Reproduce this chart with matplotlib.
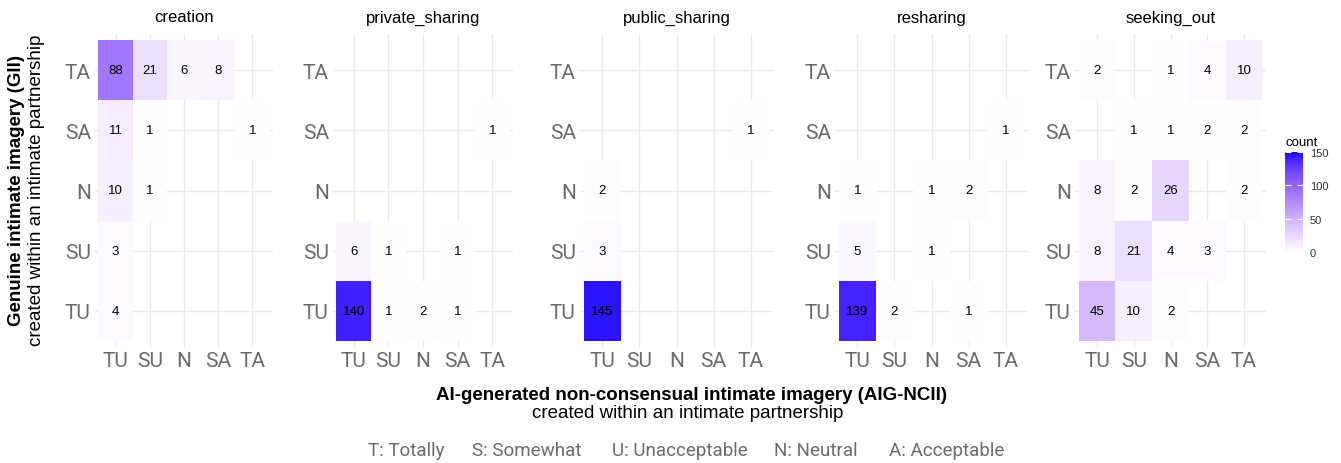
import numpy as np
import matplotlib
matplotlib.use('Agg')
import matplotlib.pyplot as plt
from matplotlib.colors import ListedColormap, Normalize

plt.rcParams['font.family'] = ['Liberation Sans', 'DejaVu Sans']

# Likert levels (x: AIG-NCII, y: GII), TU at the bottom / left
levels = ['TU', 'SU', 'N', 'SA', 'TA']
facets = ['creation', 'private_sharing', 'public_sharing', 'resharing', 'seeking_out']

# rows = GII level (TU..TA, bottom to top), cols = AIG-NCII level (TU..TA)
creation = [[4, 0, 0, 0, 0],
            [3, 0, 0, 0, 0],
            [10, 1, 0, 0, 0],
            [11, 1, 0, 0, 1],
            [88, 21, 6, 8, 0]]
private_sharing = [[140, 1, 2, 1, 0],
                   [6, 1, 0, 1, 0],
                   [0, 0, 0, 0, 0],
                   [0, 0, 0, 0, 1],
                   [0, 0, 0, 0, 0]]
public_sharing = [[145, 0, 0, 0, 0],
                  [3, 0, 0, 0, 0],
                  [2, 0, 0, 0, 0],
                  [0, 0, 0, 0, 1],
                  [0, 0, 0, 0, 0]]
resharing = [[139, 2, 0, 1, 0],
             [5, 0, 1, 0, 0],
             [1, 0, 1, 2, 0],
             [0, 0, 0, 0, 1],
             [0, 0, 0, 0, 0]]
seeking_out = [[45, 10, 2, 0, 0],
               [8, 21, 4, 3, 0],
               [8, 2, 26, 0, 2],
               [0, 1, 1, 2, 2],
               [2, 0, 1, 4, 10]]
counts = [creation, private_sharing, public_sharing, resharing, seeking_out]

abbrev_keys = ['T', 'S', 'U', 'N', 'A']
abbrev_names = ['Totally', 'Somewhat', 'Unacceptable', 'Neutral', 'Acceptable']


# white -> blue gradient interpolated in CIELAB (like ggplot's scale_fill_gradient)
def srgb_to_lab(c):
    c = np.asarray(c, float)
    lin = np.where(c <= 0.04045, c / 12.92, ((c + 0.055) / 1.055) ** 2.4)
    M = np.array([[0.4124, 0.3576, 0.1805], [0.2126, 0.7152, 0.0722], [0.0193, 0.1192, 0.9505]])
    xyz = M @ lin / np.array([0.95047, 1.0, 1.08883])
    d = 6 / 29
    f = np.where(xyz > d ** 3, np.cbrt(xyz), xyz / (3 * d * d) + 4 / 29)
    return np.array([116 * f[1] - 16, 500 * (f[0] - f[1]), 200 * (f[1] - f[2])])


def lab_to_srgb(lab):
    L, a, b = lab[:, 0], lab[:, 1], lab[:, 2]
    fy = (L + 16) / 116
    fx = fy + a / 500
    fz = fy - b / 200
    d = 6 / 29
    f = np.stack([fx, fy, fz], axis=1)
    xyz = np.where(f > d, f ** 3, 3 * d * d * (f - 4 / 29)) * np.array([0.95047, 1.0, 1.08883])
    Minv = np.linalg.inv(np.array([[0.4124, 0.3576, 0.1805], [0.2126, 0.7152, 0.0722], [0.0193, 0.1192, 0.9505]]))
    lin = xyz @ Minv.T
    lin = np.clip(lin, 0, 1)
    rgb = np.where(lin <= 0.0031308, 12.92 * lin, 1.055 * lin ** (1 / 2.4) - 0.055)
    return np.clip(rgb, 0, 1)


lab_lo = srgb_to_lab([1, 1, 1])
lab_hi = srgb_to_lab([0, 0, 1])
t = np.linspace(0, 1, 256)[:, None]
cmap = ListedColormap(lab_to_srgb(lab_lo + t * (lab_hi - lab_lo)))
norm = Normalize(vmin=0, vmax=150)

W, H = 1341, 464
fig = plt.figure(figsize=(W / 100, H / 100), dpi=100)

# panel extents in pixels (left, right)
panel_x = [(95, 273), (333, 513), (580, 773), (835, 1028), (1075, 1266)]
top, bottom = 35, 348
pos = np.arange(1, 6)

for name, mat, (x0, x1) in zip(facets, counts, panel_x):
    ax = fig.add_axes([x0 / W, 1 - bottom / H, (x1 - x0) / W, (bottom - top) / H])
    mat = np.array(mat)
    yy, xx = np.nonzero(mat)
    vals = mat[yy, xx]
    ax.bar(xx + 1, 1, bottom=yy + 0.5, width=1, color=cmap(norm(vals)), linewidth=0, zorder=2)
    for x, y, v in zip(xx, yy, vals):
        ax.text(x + 1, y + 1, str(v), ha='center', va='center', fontsize=9.5, color='black', zorder=3)
    ax.set_xlim(0.4, 5.6)
    ax.set_ylim(0.4, 5.6)
    ax.set_xticks(pos)
    ax.set_xticklabels(levels)
    ax.set_yticks(pos)
    ax.set_yticklabels(levels)
    ax.grid(True, color='#EBEBEB', linewidth=1.0, zorder=0)
    ax.set_axisbelow(True)
    for s in ax.spines.values():
        s.set_visible(False)
    ax.tick_params(length=0, labelsize=15, labelcolor='#6B6B6B', pad=3)
    for lbl in ax.get_xticklabels() + ax.get_yticklabels():
        lbl.set_family('Roboto')
    fig.text((x0 + x1) / 2 / W, 1 - 18 / H, name, ha='center', va='center', fontsize=12)

# axis titles
fig.text(17 / W, 1 - 190 / H, 'Genuine intimate imagery (GII)', rotation=90,
         ha='center', va='center', fontsize=13.5, fontweight='bold')
fig.text(37 / W, 1 - 190 / H, 'created within an intimate partnership', rotation=90,
         ha='center', va='center', fontsize=13.5)
fig.text(692 / W, 1 - 395 / H, 'AI-generated non-consensual intimate imagery (AIG-NCII)',
         ha='center', va='center', fontsize=13.5, fontweight='bold')
fig.text(688 / W, 1 - 414 / H, 'created within an intimate partnership',
         ha='center', va='center', fontsize=13.5)

# abbreviation key
key_x = [368, 472, 612, 774, 889]
for k, nm, x in zip(abbrev_keys, abbrev_names, key_x):
    fig.text(x / W, 1 - 451 / H, f'{k}: {nm}', ha='left', va='center',
             fontsize=13.5, color='#6B6B6B', family='Roboto')

# colour bar
cax = fig.add_axes([1285 / W, 1 - 253 / H, 18 / W, 100 / H])
sm = plt.cm.ScalarMappable(norm=norm, cmap=cmap)
cb = fig.colorbar(sm, cax=cax, ticks=[0, 50, 100, 150])
cb.outline.set_visible(False)
cax.tick_params(direction='in', color='white', length=4, width=0.8, labelsize=8,
                labelcolor='#333333', left=True, right=True, pad=5)
cax.set_title('count', fontsize=9.5, loc='left', pad=5)

fig.savefig('out.png', dpi=100)
